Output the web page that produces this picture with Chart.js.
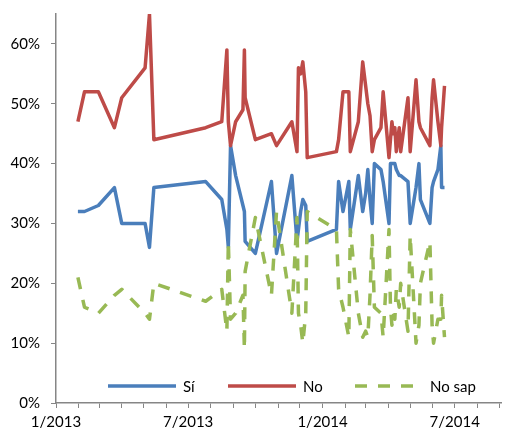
<!DOCTYPE html>
<html>
<head>
<meta charset="utf-8">
<script src="https://cdn.jsdelivr.net/npm/chart.js@4/dist/chart.umd.min.js"></script>
<style>
	html, body { margin: 0; padding: 0; background: #ffffff; }
	#wrap { position: relative; width: 505px; height: 430px; }
</style>
</head>
<body>
<div id="wrap"><canvas id="poll-chart"></canvas></div>
<script>
// Poll dates and results (percent)
var pollDates = [
	'2013-01-31', '2013-02-09', '2013-02-28', '2013-03-22', '2013-04-01', '2013-05-03', '2013-05-09', '2013-05-15',
	'2013-07-25', '2013-08-16', '2013-08-23', '2013-08-25', '2013-08-28', '2013-09-04', '2013-09-14', '2013-09-16',
	'2013-09-17', '2013-10-01', '2013-10-23', '2013-10-30', '2013-11-20', '2013-11-27', '2013-11-29', '2013-12-02',
	'2013-12-05', '2013-12-09', '2013-12-11', '2014-01-20', '2014-01-23', '2014-01-29', '2014-02-06', '2014-02-08',
	'2014-02-19', '2014-02-25', '2014-03-01', '2014-03-04', '2014-03-07', '2014-03-10', '2014-03-13', '2014-03-22',
	'2014-03-25', '2014-04-02', '2014-04-04', '2014-04-06', '2014-04-08', '2014-04-10', '2014-04-12', '2014-04-16',
	'2014-04-18', '2014-04-28', '2014-05-01', '2014-05-09', '2014-05-13', '2014-05-15', '2014-05-28', '2014-05-31',
	'2014-06-02', '2014-06-08', '2014-06-12', '2014-06-13', '2014-06-17'
];
var siValues = [
	32, 32, 33, 36, 30, 30, 26, 36,
	37, 34, 29, 26, 43, 38, 33, 32,
	27, 25, 37, 25, 38, 27, 29, 32,
	34, 33, 27, 29, 37, 32, 37, 29,
	38, 32, 35, 39, 34, 30, 40, 39,
	37, 30, 40, 40, 40, 40, 39, 38,
	38, 37, 30, 36, 40, 34, 30, 36,
	37, 39, 43, 36, 36
];
var noValues = [
	47, 52, 52, 46, 51, 56, 65, 44,
	46, 47, 59, 47, 43, 47, 49, 59,
	51, 44, 45, 43, 47, 42, 56, 55,
	57, 52, 41, 42, 44, 52, 52, 42,
	47, 57, 53, 50, 48, 42, 44, 46,
	52, 41, 44, 47, 45, 46, 42, 46,
	42, 51, 42, 54, 47, 46, 43, 51,
	54, 47, 43, 46, 53
];
var noSapValues = [
	21, 16, 15, 18, 19, 15, 14, 20,
	17, 19, 12, 27, 14, 15, 18, 9,
	22, 31, 18, 32, 15, 31, 15, 13,
	10, 15, 32, 29, 19, 16, 11, 29,
	15, 11, 12, 11, 18, 28, 16, 15,
	11, 29, 16, 13, 15, 14, 19, 16,
	20, 12, 28, 10, 13, 20, 27, 13,
	10, 14, 14, 18, 11
];
var seriesNames = ['Sí', 'No', 'No sap'];

// Axis labels
var majorTickDates = ['2013-01-01', '2013-07-01', '2014-01-01', '2014-07-01'];
var xTickLabels = ['1/2013', '7/2013', '1/2014', '7/2014'];
var yTickValues = [0, 10, 20, 30, 40, 50, 60];

var blue = '#4a7ebb';
var red = '#be4b48';
var green = '#98b954';
var axisGray = '#868686';

var origin = Date.UTC(2013, 0, 1);
function dayOf(iso) {
	var p = iso.split('-');
	return (Date.UTC(+p[0], +p[1] - 1, +p[2]) - origin) / 86400000;
}

// monthly tick positions, Jan 2013 .. Sep 2014
var monthTicks = [];
for (var m = 0; m <= 20; m++) {
	monthTicks.push((Date.UTC(2013, m, 1) - origin) / 86400000);
}
var majorDays = majorTickDates.map(dayOf);

function points(values) {
	return values.map(function (v, i) { return { x: dayOf(pollDates[i]), y: v }; });
}

// legend drawn inside the plot, along the bottom
var legendSlots = [
	{ x: 108, len: 68 },
	{ x: 228, len: 68 },
	{ x: 355, len: 68 }
];
var insideLegend = {
	id: 'insideLegend',
	afterDraw: function (chart) {
		var ctx = chart.ctx;
		var y = 386;
		ctx.save();
		chart.data.datasets.forEach(function (ds, i) {
			var s = legendSlots[i];
			ctx.beginPath();
			ctx.strokeStyle = ds.borderColor;
			ctx.lineWidth = ds.borderWidth;
			ctx.lineCap = 'butt';
			ctx.setLineDash(ds.borderDash || []);
			ctx.moveTo(s.x, y);
			ctx.lineTo(s.x + s.len, y);
			ctx.stroke();
			ctx.setLineDash([]);
			ctx.fillStyle = '#000';
			ctx.font = '15px Lato';
			ctx.textBaseline = 'middle';
			ctx.fillText(ds.label, s.x + s.len + 7, y + 1);
		});
		ctx.restore();
	}
};

Chart.defaults.font.family = 'Lato';
Chart.defaults.font.size = 15;
Chart.defaults.color = '#000';

new Chart(document.getElementById('poll-chart'), {
	type: 'line',
	data: {
		datasets: [{
			label: seriesNames[0],
			data: points(siValues),
			borderColor: blue,
			borderWidth: 3.5,
			order: 2
		}, {
			label: seriesNames[1],
			data: points(noValues),
			borderColor: red,
			borderWidth: 3.5,
			order: 1
		}, {
			label: seriesNames[2],
			data: points(noSapValues),
			borderColor: green,
			borderWidth: 3.5,
			borderDash: [12, 11],
			order: 0
		}]
	},
	options: {
		responsive: true,
		maintainAspectRatio: false,
		animation: false,
		events: [],
		layout: { padding: { top: 14, right: 0, left: 0, bottom: 0 } },
		elements: {
			point: { radius: 0 },
			line: { tension: 0, borderJoinStyle: 'round', fill: false }
		},
		plugins: {
			legend: { display: false },
			tooltip: { enabled: false }
		},
		scales: {
			x: {
				type: 'linear',
				min: 0,
				max: 610,
				afterBuildTicks: function (scale) {
					scale.ticks = monthTicks.map(function (v) { return { value: v }; });
				},
				afterFit: function (scale) { scale.height = 27; },
				ticks: {
					autoSkip: false,
					maxRotation: 0,
					padding: 5,
					callback: function (v) {
						var k = majorDays.indexOf(v);
						return k >= 0 ? xTickLabels[k] : '';
					}
				},
				grid: { drawOnChartArea: false, tickLength: 5, color: axisGray },
				border: { color: axisGray, width: 1.5 }
			},
			y: {
				min: 0,
				max: 65,
				afterBuildTicks: function (scale) {
					scale.ticks = yTickValues.map(function (v) { return { value: v }; });
				},
				afterFit: function (scale) {
					scale.width = 56;
					scale.paddingTop = 0;
					scale.paddingBottom = 0;
				},
				ticks: {
					padding: 11,
					callback: function (v) { return v + '%'; }
				},
				grid: { drawOnChartArea: false, tickLength: 5, color: axisGray },
				border: { color: axisGray, width: 1.5 }
			}
		}
	},
	plugins: [insideLegend]
});
</script>
</body>
</html>
